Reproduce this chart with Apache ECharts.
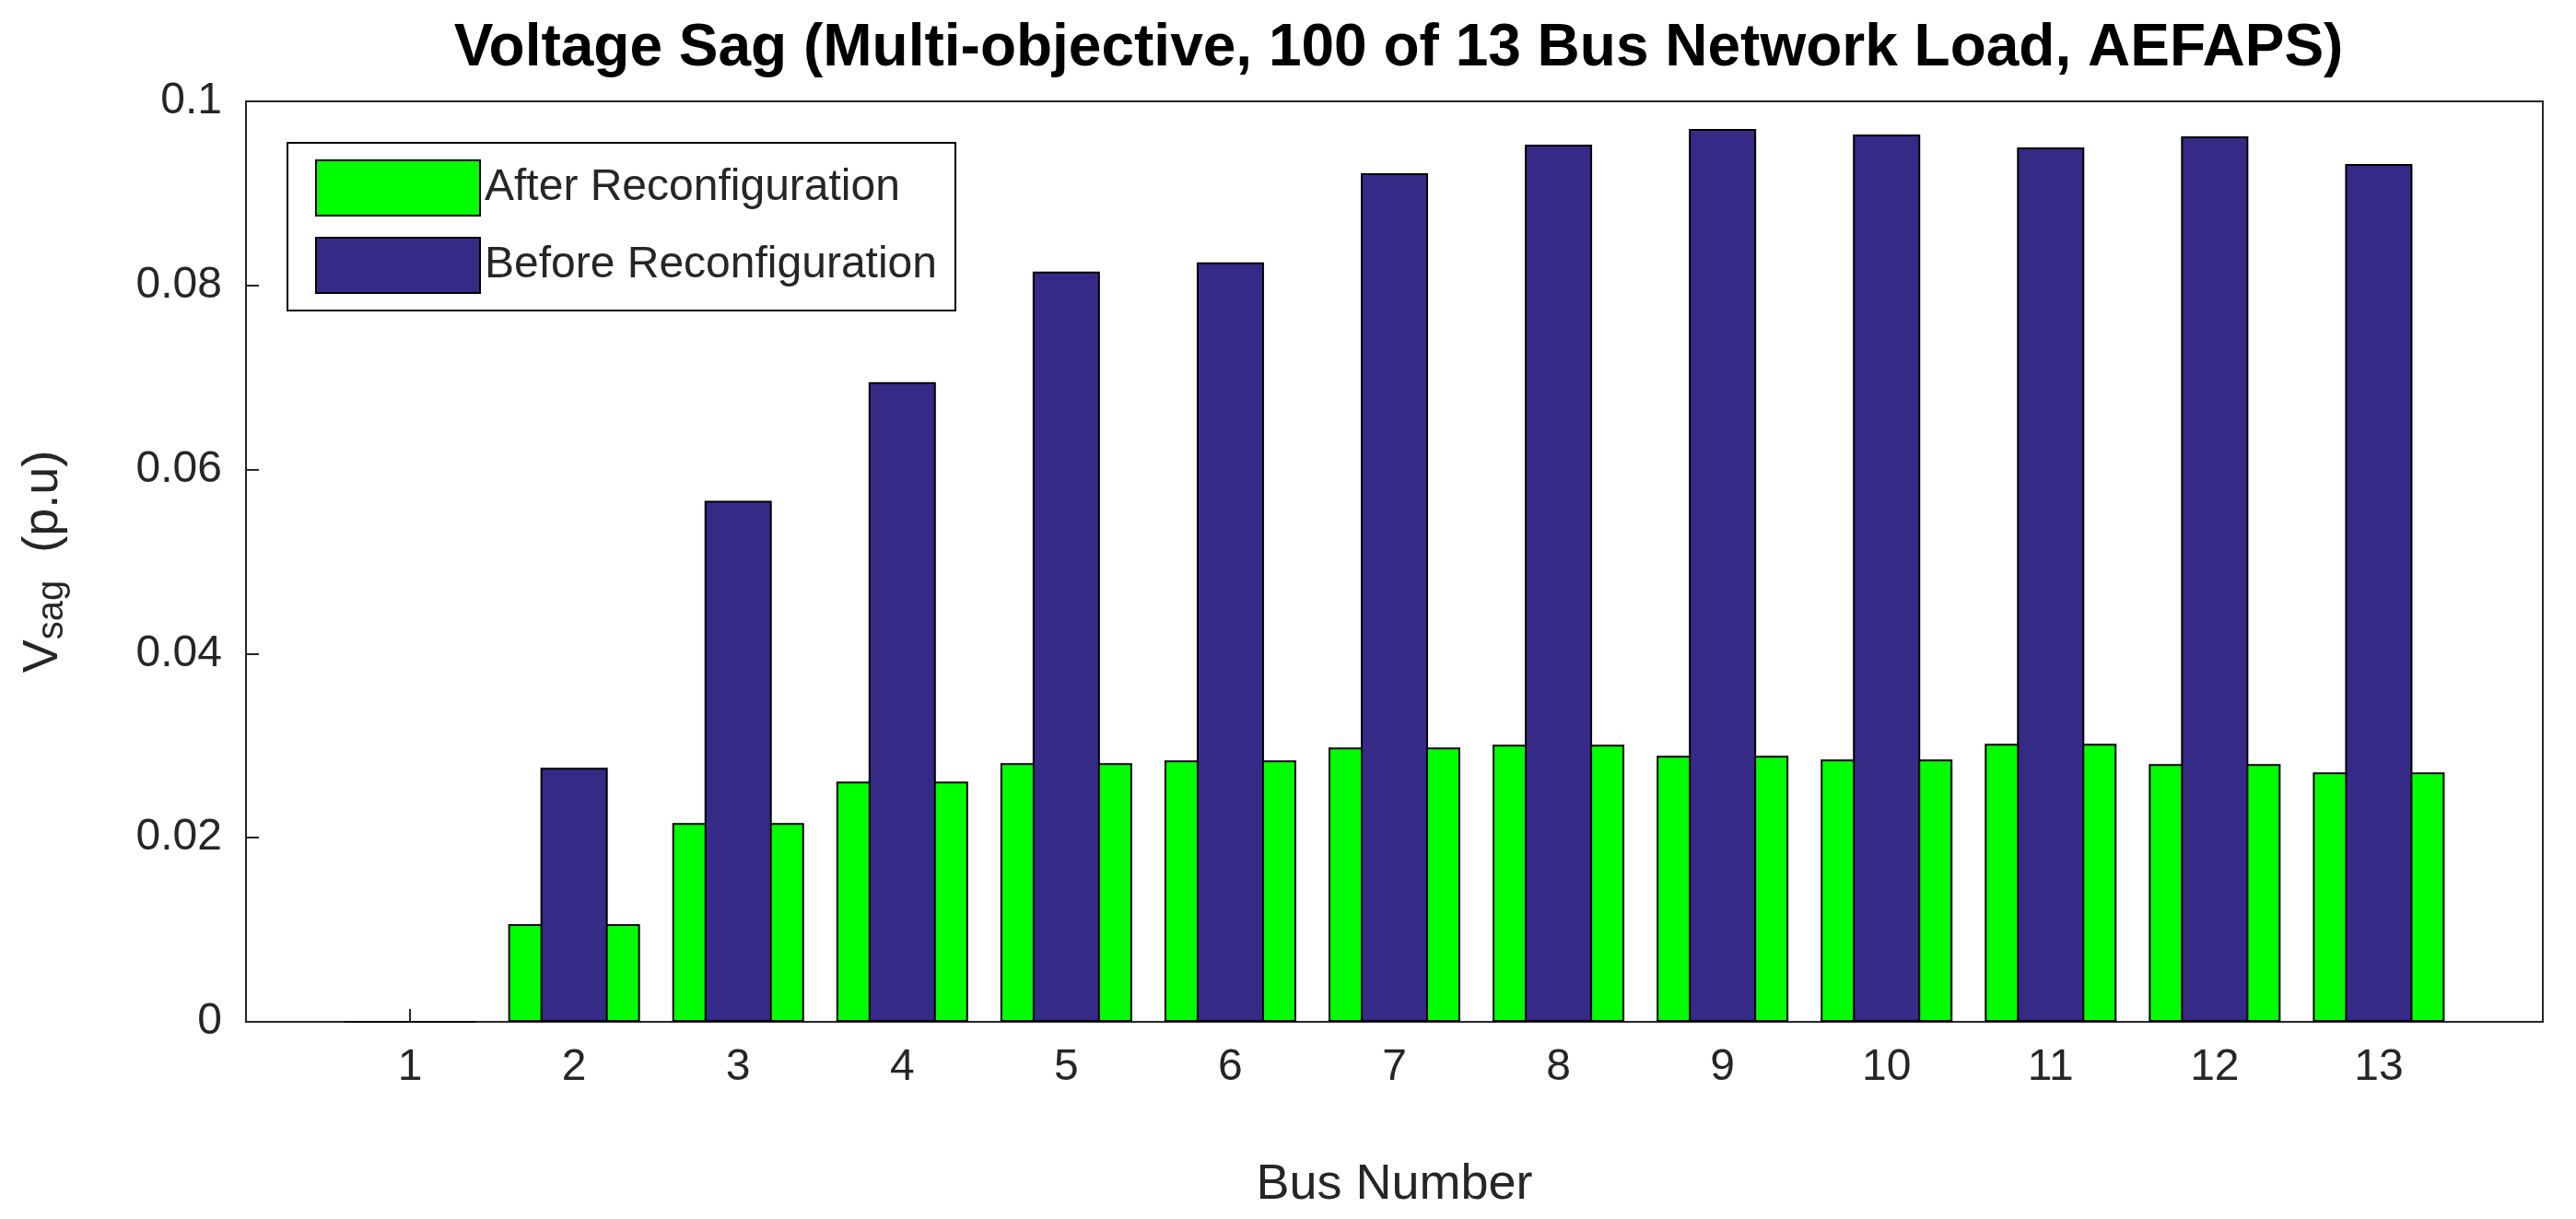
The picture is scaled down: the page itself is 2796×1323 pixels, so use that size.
<!DOCTYPE html>
<html><head><meta charset="utf-8">
<script src="https://cdn.jsdelivr.net/npm/echarts@6/dist/echarts.min.js"></script>
<style>html,body{margin:0;padding:0;background:#fff}#c{width:2796px;height:1323px}</style>
</head><body><div id="c"></div>
<script>
const buses = [1,2,3,4,5,6,7,8,9,10,11,12,13];
const after = [0,0.0106,0.0216,0.0261,0.0281,0.0284,0.0298,0.0301,0.0289,0.0285,0.0302,0.0280,0.0271];
const before = [0,0.0276,0.0566,0.0695,0.0815,0.0825,0.0922,0.0953,0.0970,0.0964,0.0950,0.0962,0.0932];
const yTicks = [0,0.02,0.04,0.06,0.08,0.1];
const font = 'Liberation Sans, Arial, sans-serif';
const chart = echarts.init(document.getElementById('c'));
const axisLine = {show:true, lineStyle:{color:'#262626', width:2}};
chart.setOption({
  animation:false,
  title:{text:'Voltage Sag (Multi-objective, 100 of 13 Bus Network Load, AEFAPS)', left:1513, textAlign:'center', top:16,
    textStyle:{fontFamily:font, fontWeight:'bold', fontSize:64, color:'#000'}},
  grid:{left:267, right:36, top:110, bottom:214, show:true, borderColor:'#262626', borderWidth:2, backgroundColor:'transparent'},
  legend:{orient:'vertical', left:312, top:155, itemWidth:178, itemHeight:60, itemGap:22, icon:'rect',
    padding:[18,20,18,30], backgroundColor:'#fff', borderColor:'#000', borderWidth:2,
    textStyle:{fontFamily:font, fontSize:48, color:'#262626'}, data:['After Reconfiguration','Before Reconfiguration']},
  xAxis:[
    {type:'value', min:0, max:14, interval:1, position:'bottom', axisLine,
     axisTick:{inside:true, length:14, lineStyle:{color:'#262626',width:2}}, splitLine:{show:false},
     axisLabel:{fontFamily:font, fontSize:48, color:'#262626', margin:26,
       formatter:v=>(v>=1&&v<=13)?String(v):''},
     name:'Bus Number', nameLocation:'middle', nameGap:150, nameTextStyle:{fontFamily:font, fontSize:54, color:'#262626'}},
    {type:'value', min:0, max:14, position:'top', axisLine:{show:false}, axisTick:{show:false}, axisLabel:{show:false}, splitLine:{show:false}}
  ],
  yAxis:[
    {type:'value', min:0, max:0.1, interval:0.02, axisLine,
     axisTick:{inside:true, length:14, lineStyle:{color:'#262626',width:2}}, splitLine:{show:false},
     axisLabel:{fontFamily:font, fontSize:48, color:'#262626', margin:26, formatter:v=>yTicks.includes(+v.toFixed(2))?(v===0?'0':String(+v.toFixed(2))):''},
     name:'{v|V}{s|sag}{v|  (p.u)}', nameLocation:'middle', nameGap:190, nameRotate:90,
     nameTextStyle:{rich:{v:{fontFamily:font, fontSize:54, color:'#262626'}, s:{fontFamily:font, fontSize:40, color:'#262626', verticalAlign:'bottom', padding:[20,0,0,0]}}}}
  ],
  series:[
    {name:'After Reconfiguration', type:'bar', xAxisIndex:0, yAxisIndex:0, barWidth:143,
     itemStyle:{color:'#00ff00', borderColor:'#000', borderWidth:2},
     data:buses.map((b,i)=>[b,after[i]])},
    {name:'Before Reconfiguration', type:'bar', xAxisIndex:1, yAxisIndex:0, barWidth:73, z:3,
     itemStyle:{color:'#352a86', borderColor:'#000', borderWidth:2},
     data:buses.map((b,i)=>[b,before[i]])}
  ]
});
</script></body></html>
